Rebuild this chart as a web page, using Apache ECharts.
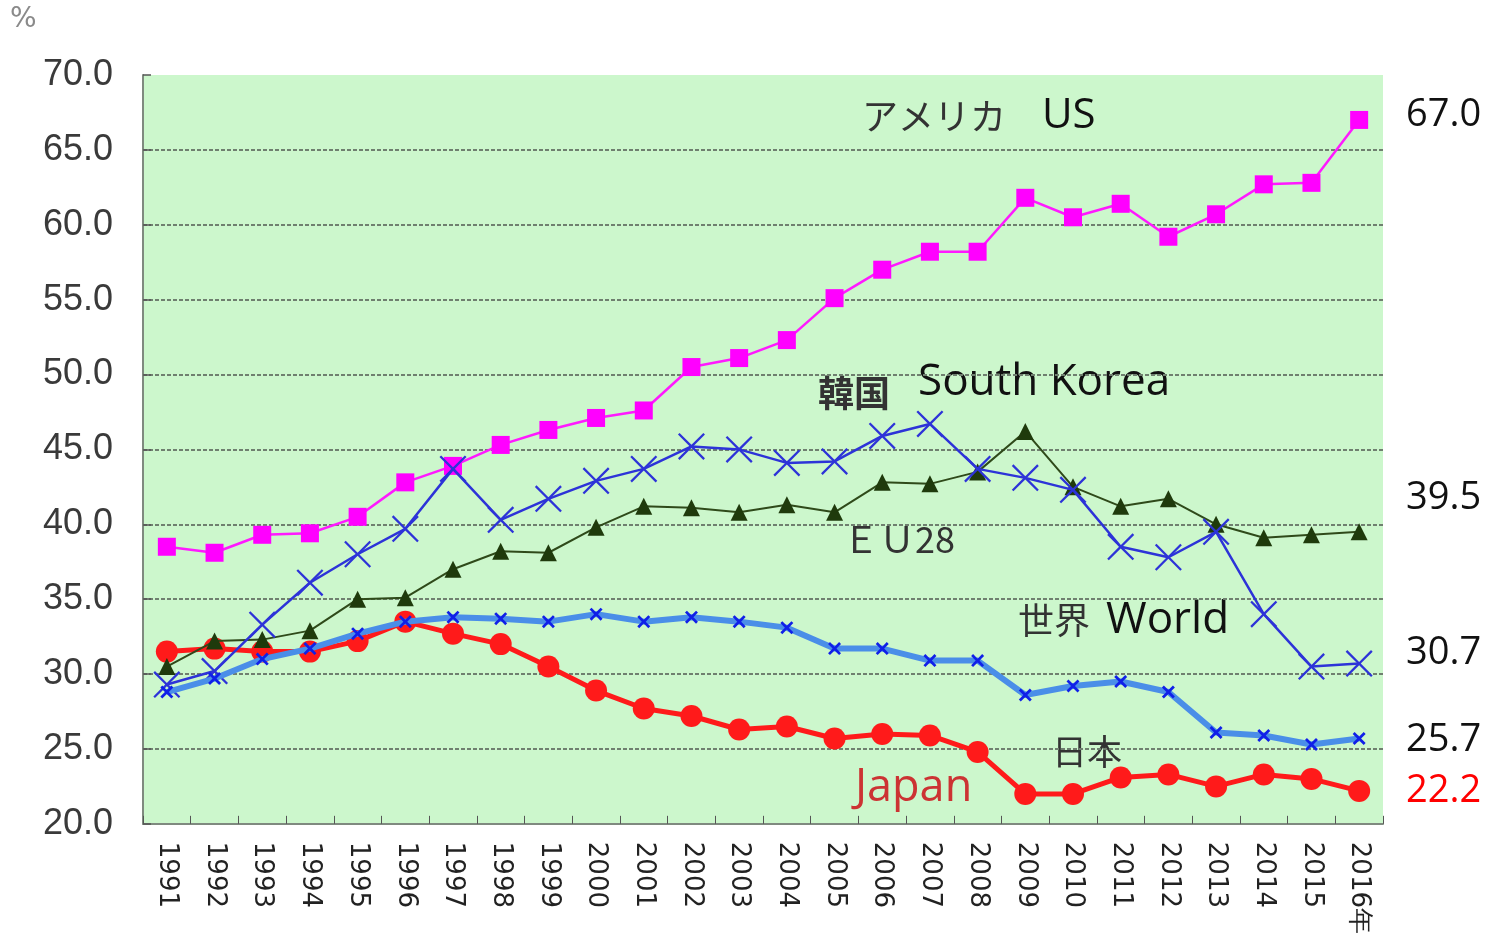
<!DOCTYPE html>
<html>
<head>
<meta charset="utf-8">
<script src="https://cdn.jsdelivr.net/npm/echarts@6/dist/echarts.min.js"></script>
<style>
html,body{margin:0;padding:0;background:#fff;}
#chart{width:1491px;height:937px;}
</style>
</head>
<body>
<div id="chart"></div>
<script>
var years = ['1991','1992','1993','1994','1995','1996','1997','1998','1999','2000','2001','2002','2003','2004','2005','2006','2007','2008','2009','2010','2011','2012','2013','2014','2015','2016年'];
var usValues = [38.5,38.1,39.3,39.4,40.5,42.8,43.9,45.3,46.3,47.1,47.6,50.5,51.1,52.3,55.1,57.0,58.2,58.2,61.8,60.5,61.4,59.2,60.7,62.7,62.8,67.0];
var koreaValues = [29.3,30.2,33.3,36.1,38.0,39.7,43.7,40.3,41.7,42.9,43.7,45.2,45.0,44.1,44.2,45.9,46.7,43.7,43.1,42.3,38.5,37.8,39.5,34.0,30.5,30.7];
var euValues = [30.5,32.2,32.3,32.9,35.0,35.1,37.0,38.2,38.1,39.8,41.2,41.1,40.8,41.3,40.8,42.8,42.7,43.5,46.2,42.5,41.2,41.7,40.0,39.1,39.3,39.5];
var worldValues = [28.8,29.7,31.0,31.7,32.7,33.5,33.8,33.7,33.5,34.0,33.5,33.8,33.5,33.1,31.7,31.7,30.9,30.9,28.6,29.2,29.5,28.8,26.1,25.9,25.3,25.7];
var japanValues = [31.5,31.7,31.5,31.5,32.2,33.5,32.7,32.0,30.5,28.9,27.7,27.2,26.3,26.5,25.7,26.0,25.9,24.8,22.0,22.0,23.1,23.3,22.5,23.3,23.0,22.2];
var yMin = 20, yMax = 70, yStep = 5;

var xPath = 'path://M0,0.6L0.6,0L5,4.4L9.4,0L10,0.6L5.6,5L10,9.4L9.4,10L5,5.6L0.6,10L0,9.4L4.4,5Z';
var xPathThick = 'path://M0,1.5L1.5,0L5,3.5L8.5,0L10,1.5L6.5,5L10,8.5L8.5,10L5,6.5L1.5,10L0,8.5L3.5,5Z';

var chart = echarts.init(document.getElementById('chart'), null, {renderer:'canvas'});
var jp = '"Noto Sans CJK JP", sans-serif';
var en = '"Open Sans", "Noto Sans", sans-serif';

function last(a){ return a[a.length-1].toFixed(1); }

var option = {
  backgroundColor: '#ffffff',
  animation: false,
  grid: {left:143, right:108, top:75, bottom:112, show:true, backgroundColor:'#ccf7cc', borderWidth:0},
  xAxis: {
    type:'category', data: years, boundaryGap:true,
    axisLine:{show:true, lineStyle:{color:'#7f8a7f', width:2}},
    axisTick:{show:true, inside:true, length:8, lineStyle:{color:'#555', width:1}},
    axisLabel:{rotate:-90, fontSize:26, color:'#222', margin:18, fontFamily:'"DejaVu Sans", sans-serif', interval:0},
    splitLine:{show:false}
  },
  yAxis: {
    type:'value', min:yMin, max:yMax, interval:yStep,
    axisLine:{show:true, lineStyle:{color:'#7f8a7f', width:2}},
    axisTick:{show:true, inside:true, length:8, lineStyle:{color:'#555', width:1.5}},
    axisLabel:{fontSize:36, color:'#3a3a3a', margin:30, fontFamily:'"Liberation Sans", sans-serif',
      formatter:function(v){return v.toFixed(1);}},
    splitLine:{show:true, showMaxLine:false, showMinLine:false, lineStyle:{color:'#6f7f6f', width:2, type:[4,2]}}
  },
  series: [
    {name:'Japan', type:'line', data: japanValues, symbol:'circle', symbolSize:22,
      lineStyle:{color:'#ff1a1a', width:5}, itemStyle:{color:'#ff1a1a'}, z:2},
    {name:'EU28', type:'line', data: euValues, symbol:'triangle', symbolSize:17,
      lineStyle:{color:'#2f4a1a', width:2}, itemStyle:{color:'#1f3a0c'}, z:3},
    {name:'US', type:'line', data: usValues, symbol:'rect', symbolSize:18,
      lineStyle:{color:'#ff19ff', width:2.5}, itemStyle:{color:'#ff00ff'}, z:4},
    {name:'South Korea', type:'line', data: koreaValues, symbol: xPath, symbolSize:27,
      lineStyle:{color:'#2d33d8', width:2.5}, itemStyle:{color:'#2d33d8'}, z:5},
    {name:'World', type:'line', data: worldValues, symbol: xPathThick, symbolSize:13,
      lineStyle:{color:'#4a8ee8', width:6}, itemStyle:{color:'#1020e8'}, z:6}
  ],
  graphic: [
    {type:'text', left:10, top:6, style:{text:'%', font:'28px "DejaVu Sans", sans-serif', fill:'#8a8a8a'}},
    {type:'text', left:862, top:95, style:{text:'{a|アメリカ}{b|US}', rich:{a:{fontSize:36, fontFamily:jp, fill:'#333'}, b:{fontSize:42, fontFamily:en, fill:'#111', padding:[0,0,0,36]}}}},
    {type:'text', left:818, top:375, style:{text:'韓国', font:'bold 36px ' + jp, fill:'#333'}},
    {type:'text', left:918, top:360, style:{text:'South Korea', font:'44px ' + en, fill:'#111'}},
    {type:'text', left:843, top:521, style:{text:'ＥＵ28', font:'36px ' + jp, fill:'#333'}},
    {type:'text', left:1018, top:598, style:{text:'{a|世界}{b|World}', rich:{a:{fontSize:36, fontFamily:jp, fill:'#333'}, b:{fontSize:44, fontFamily:en, fill:'#111', padding:[0,0,0,16]}}}},
    {type:'text', left:1052, top:734, style:{text:'日本', font:'35px ' + jp, fill:'#333'}},
    {type:'text', left:855, top:766, style:{text:'Japan', font:'45px ' + en, fill:'#cc3333'}},
    {type:'text', left:1406, top:96, style:{text:last(usValues), font:'38px ' + en, fill:'#111'}},
    {type:'text', left:1406, top:479, style:{text:last(euValues), font:'38px ' + en, fill:'#111'}},
    {type:'text', left:1406, top:634, style:{text:last(koreaValues), font:'38px ' + en, fill:'#111'}},
    {type:'text', left:1406, top:721, style:{text:last(worldValues), font:'38px ' + en, fill:'#111'}},
    {type:'text', left:1406, top:772, style:{text:last(japanValues), font:'38px ' + en, fill:'#ff0000'}}
  ]
};
chart.setOption(option);
</script>
</body>
</html>
